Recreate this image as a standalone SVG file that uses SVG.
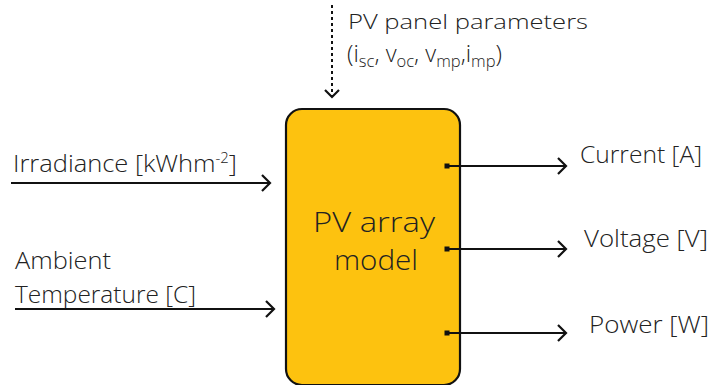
<svg xmlns="http://www.w3.org/2000/svg" width="713" height="385" viewBox="0 0 713 385">
<style>
.t{font-family:"Open Sans","Liberation Sans",sans-serif;font-weight:300;fill:#222;}
.c{stroke:#111;stroke-width:2;fill:none;}
</style>
<defs>
<marker id="ah" markerUnits="userSpaceOnUse" markerWidth="14" markerHeight="20" refX="10" refY="9" orient="auto" overflow="visible">
<path d="M2,1 L10,9 L2,17" fill="none" stroke="#111" stroke-width="2.2" stroke-linejoin="miter"/>
</marker>
<marker id="sq" markerUnits="userSpaceOnUse" markerWidth="6" markerHeight="6" refX="3" refY="3" overflow="visible">
<rect x="0.5" y="0.5" width="5" height="5" fill="#111"/>
</marker>
</defs>
<rect width="713" height="385" fill="#fff"/>
<g id="model">
<rect x="286" y="109" width="174" height="276" rx="16" ry="16" fill="#FDC20F" stroke="#111" stroke-width="2.2"/>
<text class="t" x="374" y="232" font-size="28" text-anchor="middle" textLength="122" lengthAdjust="spacingAndGlyphs">PV array</text>
<text class="t" x="376" y="270" font-size="28" text-anchor="middle" textLength="84" lengthAdjust="spacingAndGlyphs">model</text>
</g>
<g id="params">
<text class="t" x="348" y="29" font-size="21" textLength="240" lengthAdjust="spacingAndGlyphs">PV panel parameters</text>
<text class="t" x="347" y="62" font-size="23" textLength="155" lengthAdjust="spacingAndGlyphs">(i<tspan font-size="16" dy="5">sc</tspan><tspan dy="-5">, v</tspan><tspan font-size="16" dy="5">oc</tspan><tspan dy="-5">, v</tspan><tspan font-size="16" dy="5">mp</tspan><tspan dy="-5">,i</tspan><tspan font-size="16" dy="5">mp</tspan><tspan dy="-5">)</tspan></text>
</g>
<g id="irradiance">
<text class="t" x="13" y="172" font-size="24" textLength="224" lengthAdjust="spacingAndGlyphs">Irradiance [kWhm<tspan font-size="14" dy="-9">-2</tspan><tspan dy="9">]</tspan></text>
</g>
<g id="temperature">
<text class="t" x="15" y="269" font-size="23" textLength="96" lengthAdjust="spacingAndGlyphs">Ambient</text>
<text class="t" x="15" y="303" font-size="23" textLength="181" lengthAdjust="spacingAndGlyphs">Temperature [C]</text>
</g>
<g id="current"><text class="t" x="580" y="163" font-size="23" textLength="122" lengthAdjust="spacingAndGlyphs">Current [A]</text></g>
<g id="voltage"><text class="t" x="584" y="247" font-size="23" textLength="124" lengthAdjust="spacingAndGlyphs">Voltage [V]</text></g>
<g id="power"><text class="t" x="589" y="333" font-size="23" textLength="120" lengthAdjust="spacingAndGlyphs">Power [W]</text></g>
<g id="connectors">
<path class="c" d="M332,5 V96" stroke-dasharray="3,3"/>
<path d="M325,90 L332,97 L339,90" fill="none" stroke="#111" stroke-width="2.2"/>
<path class="c" d="M11,183 H270" marker-end="url(#ah)"/>
<path class="c" d="M15,309 H274" marker-end="url(#ah)"/>
<path class="c" d="M447,166 H566" marker-start="url(#sq)" marker-end="url(#ah)"/>
<path class="c" d="M447,249 H566" marker-start="url(#sq)" marker-end="url(#ah)"/>
<path class="c" d="M447,333 H566" marker-start="url(#sq)" marker-end="url(#ah)"/>
</g>
</svg>
